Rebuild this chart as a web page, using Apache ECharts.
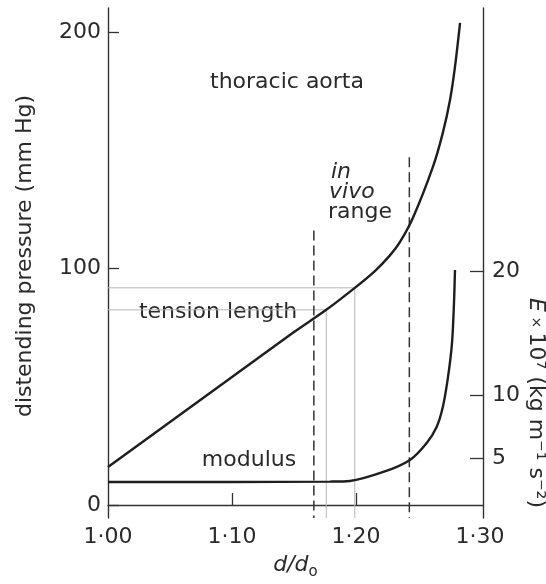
<!DOCTYPE html>
<html>
<head>
<meta charset="utf-8">
<script src="https://cdn.jsdelivr.net/npm/echarts@6/dist/echarts.min.js"></script>
<style>
  html, body { margin: 0; padding: 0; background: #fff; }
  #chart { width: 546px; height: 584px; }
</style>
</head>
<body>
<div id="chart"></div>
<script>
// Tension-length curve of the thoracic aorta: diameter ratio d/d0 vs distending pressure (mm Hg)
const tensionRatio    = [1.000, 1.050, 1.100, 1.150, 1.176, 1.199, 1.215, 1.227, 1.2355, 1.246, 1.262, 1.270, 1.2758, 1.2798, 1.2839];
const tensionPressure = [16.1,  35.1,  54.1,  73.1,  82.5,  91.8,  98.8,  105.3, 111.2,  121.5, 142.9, 157.3, 171.2,  185.2,  203.8];

// Incremental elastic modulus, E x 10^7 (kg m^-1 s^-2)
const modulusRatio = [1.000, 1.100, 1.179, 1.195, 1.222, 1.2435, 1.257, 1.265, 1.270, 1.2742, 1.2774, 1.279, 1.2798];
const modulusE     = [3.07,  3.07,  3.10,  3.15,  3.87,  4.84,   6.20,  7.48,  9.08,  11.5,   14.2,   17.4,  20.07];

// In vivo range: d/d0 at each bound and the pressure reached by its marker
const rangeRatio = [1.166, 1.243];
const rangeTop   = [116, 147];

// Readings projected from the curve onto both axes
const guideRatio    = [1.176, 1.199];
const guidePressure = [82.5, 91.8];

// Tick values
const ratioTicks    = [1.00, 1.10, 1.20, 1.30];
const ratioMinor    = [1.10, 1.20];
const pressureTicks = [0, 100, 200];
const modulusTicks  = [5, 10, 20];

const INK = '#2a2a2a';
const FONT = 'DejaVu Sans';
const P_MIN = -5.5, P_MAX = 210.1;

const zip = (xs, ys) => xs.map((x, i) => [x, ys[i]]);

const series = [];

// Projection guides (thin grey)
guideRatio.forEach((r, i) => {
  series.push({
    type: 'line', yAxisIndex: 0, silent: true, showSymbol: false, z: 1,
    lineStyle: { color: '#b5b5b5', width: 1 },
    data: [[1.0, guidePressure[i]], [r, guidePressure[i]], [r, P_MIN]]
  });
});

// In vivo range markers (dashed)
rangeRatio.forEach((r, i) => {
  series.push({
    type: 'line', yAxisIndex: 0, silent: true, showSymbol: false, z: 2,
    lineStyle: { color: '#333', width: 1.5, type: [10, 5] },
    data: [[r, rangeTop[i]], [r, P_MIN]]
  });
});

series.push({
  name: 'tension length', type: 'line', yAxisIndex: 0, showSymbol: false, z: 3,
  smooth: 0.3,
  lineStyle: { color: '#1e1e1e', width: 2.4 },
  data: zip(tensionRatio, tensionPressure)
});

series.push({
  name: 'modulus', type: 'line', yAxisIndex: 1, showSymbol: false, z: 3,
  smooth: 0.3,
  lineStyle: { color: '#1e1e1e', width: 2.4 },
  data: zip(modulusRatio, modulusE)
});

const labelStyle = { color: INK, fontFamily: FONT, fontSize: 22 };
const axisLineStyle = { lineStyle: { color: '#333', width: 1.4 } };

const option = {
  animation: false,
  backgroundColor: '#fff',
  grid: { left: 108, right: 63, top: 8, bottom: 66, containLabel: false, outerBoundsMode: 'none' },
  xAxis: {
    type: 'value', min: 1.0, max: 1.3024,
    axisLine: axisLineStyle,
    axisTick: { inside: true, length: 12, customValues: ratioMinor, lineStyle: { color: '#333', width: 1.3 } },
    axisLabel: Object.assign({ customValues: ratioTicks, margin: 8,
      formatter: v => v.toFixed(2).replace('.', '\u00b7') }, labelStyle),
    splitLine: { show: false },
    name: '{i|d/d}{s|o}', nameLocation: 'middle', nameGap: 32,
    nameTextStyle: {
      rich: {
        i: { fontFamily: FONT, fontStyle: 'italic', fontSize: 22, color: INK, lineHeight: 30 },
        s: { fontFamily: FONT, fontSize: 15, color: INK, lineHeight: 15, verticalAlign: 'bottom' }
      }
    }
  },
  yAxis: [
    {
      type: 'value', position: 'left', min: P_MIN, max: P_MAX,
      axisLine: Object.assign({ show: true }, axisLineStyle),
      axisTick: { show: true, inside: true, length: 11, customValues: pressureTicks, lineStyle: { color: '#333', width: 1.3 } },
      axisLabel: Object.assign({ customValues: pressureTicks, margin: 7 }, labelStyle),
      splitLine: { show: false }
    },
    {
      type: 'value', position: 'right', min: 0.18, max: 41.08,
      axisLine: Object.assign({ show: true }, axisLineStyle),
      axisTick: { show: true, inside: true, length: 13, customValues: modulusTicks, lineStyle: { color: '#333', width: 1.3 } },
      axisLabel: Object.assign({ customValues: modulusTicks, margin: 9 }, labelStyle),
      splitLine: { show: false }
    }
  ],
  series: series,
  graphic: [
    { type: 'text', x: 287, y: 82, style: { text: 'thoracic aorta', fill: INK, font: '22px "DejaVu Sans"', align: 'center', verticalAlign: 'middle' } },
    { type: 'text', x: 218, y: 312, style: { text: 'tension length', fill: INK, font: '22px "DejaVu Sans"', align: 'center', verticalAlign: 'middle' } },
    { type: 'text', x: 249, y: 460, style: { text: 'modulus', fill: INK, font: '22px "DejaVu Sans"', align: 'center', verticalAlign: 'middle' } },
    { type: 'text', x: 331, y: 172, style: { text: 'in', fill: INK, font: 'italic 22px "DejaVu Sans"', align: 'left', verticalAlign: 'middle' } },
    { type: 'text', x: 329, y: 192, style: { text: 'vivo', fill: INK, font: 'italic 22px "DejaVu Sans"', align: 'left', verticalAlign: 'middle' } },
    { type: 'text', x: 328, y: 212, style: { text: 'range', fill: INK, font: '22px "DejaVu Sans"', align: 'left', verticalAlign: 'middle' } },
    { type: 'text', x: 25, y: 256, rotation: Math.PI / 2,
      style: { text: 'distending pressure (mm Hg)', fill: INK, font: '22px "DejaVu Sans"', align: 'center', verticalAlign: 'middle' } },
    { type: 'text', x: 536, y: 403, rotation: -Math.PI / 2,
      style: {
        text: '{e|E}{t| \u00d7 }{n|10\u2077 (kg m\u207b\u00b9 s\u207b\u00b2)}',
        align: 'center', verticalAlign: 'middle',
        rich: {
          e: { fontFamily: FONT, fontStyle: 'italic', fontSize: 22, fill: INK, color: INK },
          t: { fontFamily: FONT, fontSize: 14, fill: INK, color: INK },
          n: { fontFamily: FONT, fontSize: 22, fill: INK, color: INK }
        }
      }
    }
  ]
};

echarts.init(document.getElementById('chart'), null, { renderer: 'canvas' }).setOption(option);
</script>
</body>
</html>
